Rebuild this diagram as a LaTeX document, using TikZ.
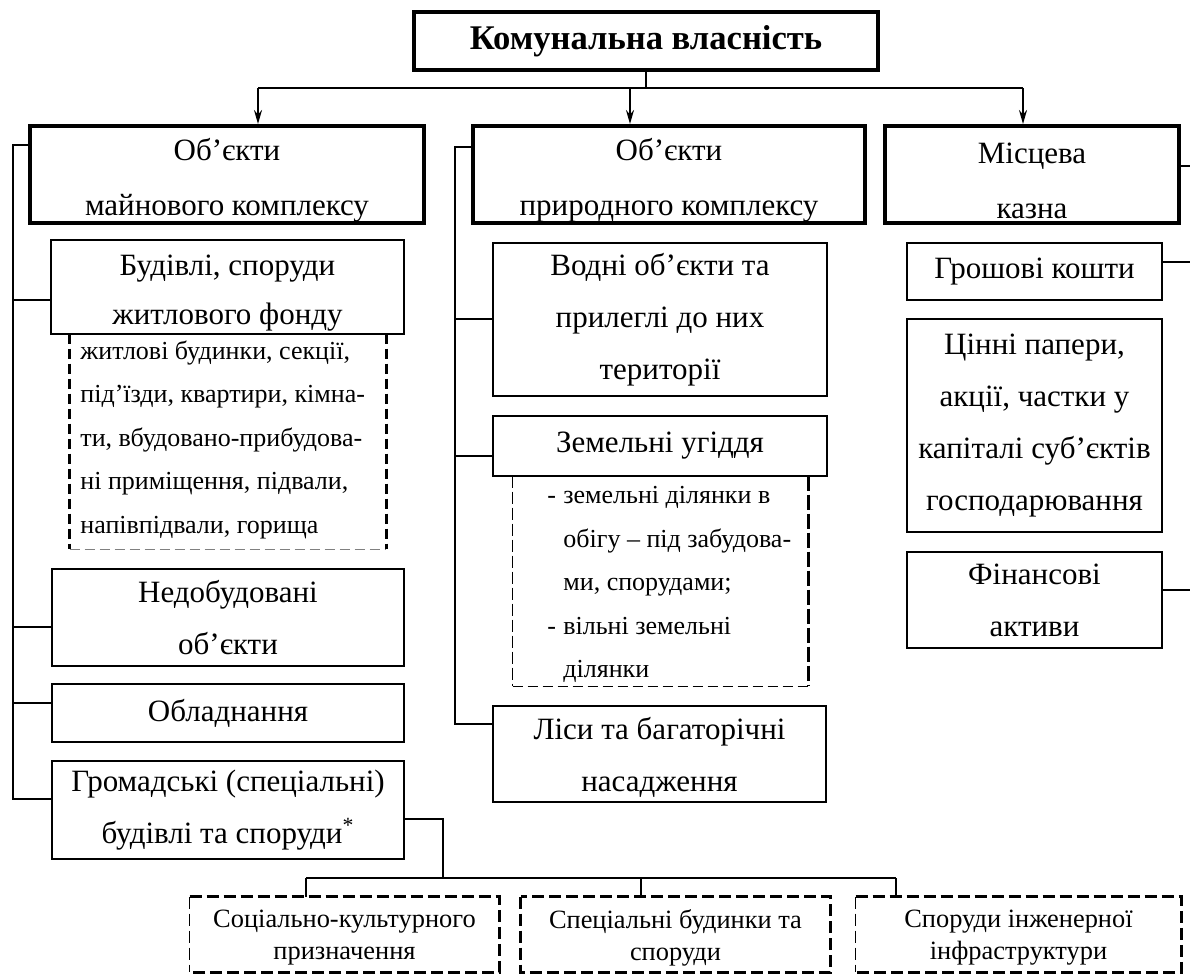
\documentclass[tikz,border=0pt]{standalone}
\usepackage{fontspec}
\setmainfont{Liberation Serif}
\usetikzlibrary{arrows.meta,calc}
\begin{document}
\begin{tikzpicture}[x=0.5pt,y=-0.5pt,
 sz/.style 2 args={minimum width=#1*0.5pt, minimum height=#2*0.5pt},
 box/.style={draw, line width=1pt, rectangle, inner sep=0pt, align=center, font=\fontsize{15.5}{26}\selectfont},
 bigbox/.style={box, line width=2pt, font=\fontsize{15.5}{27.5}\selectfont},
 titlebox/.style={box, line width=2pt, font=\fontsize{17.3}{20}\selectfont\bfseries},
 frame/.style={inner sep=0pt},
 conn/.style={line width=1pt},
 arr/.style={conn, -{Stealth[length=7pt,width=4pt]}},
 note/.style={inner sep=0pt, align=left, anchor=north west, font=\fontsize{13}{21.75}\selectfont},
 dthick/.style={line width=1.5pt, dash pattern=on 5pt off 2.5pt},
 dthin/.style={line width=0.6pt, dash pattern=on 5pt off 2.5pt},
 dbot/.style={line width=1.4pt, dash pattern=on 6pt off 2.5pt},
 dbotthin/.style={line width=0.6pt, dash pattern=on 6pt off 2.5pt},
 subtext/.style={inner sep=0pt, align=center, font=\fontsize{13.2}{16}\selectfont},
]
\useasboundingbox (0,0) rectangle (1190,974);

% top level
\node[titlebox, sz={464}{58}] (title) at (646,41) {Комунальна власність};
\node[bigbox, sz={394}{97}] (b1) at (227,174.5) {\rule{0pt}{17pt}Об’єкти\\майнового комплексу};
\node[bigbox, sz={392}{97}] (b2) at (669,174.5) {\rule{0pt}{17pt}Об’єкти\\природного комплексу};
\node[bigbox, sz={294}{97}] (b3) at (1032,174.5) {\rule{0pt}{17pt}Місцева\\казна};

\coordinate (a1) at (258,88);
\coordinate (a2) at (630,88);
\coordinate (a3) at (1023,88);
\draw[conn] (title.south) -- (title.south |- a1);
\draw[conn] (a1) -- (a3);
\draw[arr] (a1) -- (a1 |- b1.north);
\draw[arr] (a2) -- (a2 |- b2.north);
\draw[arr] (a3) -- (a3 |- b3.north);

% column 1
\node[box, sz={353}{94}, font=\fontsize{15.5}{24.5}\selectfont] (bud) at (227.5,287) {\rule{0pt}{16pt}Будівлі, споруди\\житлового фонду};
\node[frame, sz={316}{215}] (d1) at (228,441.5) {};
\node[note] (d1t) at (80,340) {житлові будинки, секції,\\під’їзди, квартири, кімна-\\ти, вбудовано-прибудова-\\ні приміщення, підвали,\\напівпідвали, горища};
\draw[dthick] (d1.north west) -- (d1.south west);
\draw[dthick] (d1.north east) -- (d1.south east);
\draw[dthin, gray] (d1.south west) -- (d1.south east);
\node[box, sz={352}{97}] (ned) at (228,617.5) {Недобудовані\\об’єкти};
\node[box, sz={352}{58}] (obl) at (228,713) {Обладнання};
\node[box, sz={352}{98}] (grom) at (228,810) {Громадські (спеціальні)\\будівлі та споруди\textsuperscript{*}};

\coordinate (s1) at (13,145);
\coordinate (s2) at (13,300);
\coordinate (s3) at (13,627);
\coordinate (s4) at (13,703);
\coordinate (s5) at (13,799);
\draw[conn] (s1 -| b1.west) -- (s1) -- (s5) -- (s5 -| grom.west);
\draw[conn] (s2) -- (s2 -| bud.west);
\draw[conn] (s3) -- (s3 -| ned.west);
\draw[conn] (s4) -- (s4 -| obl.west);

% column 2
\node[box, sz={334}{153}] (vod) at (660,319.5) {Водні об’єкти та\\прилеглі до них\\території};
\node[box, sz={334}{60}] (zem) at (660,446) {Земельні угіддя};
\node[frame, sz={295}{210}] (d2) at (660.5,581) {};
\node[note] (d2t) at (547,486) {\makebox[8pt][l]{-}земельні ділянки в\\\hspace*{8pt}обігу – під забудова-\\\hspace*{8pt}ми, спорудами;\\\makebox[8pt][l]{-}вільні земельні\\\hspace*{8pt}ділянки};
\draw[line width=0.6pt, dash pattern=on 6pt off 2pt] (d2.north west) -- (d2.south west);
\draw[line width=1.5pt, dash pattern=on 7.5pt off 2pt] (d2.north east) -- (d2.south east);
\draw[dthin] (d2.south west) -- (d2.south east);
\node[box, sz={333}{96}] (lis) at (659.5,754) {\rule{0pt}{14pt}Ліси та багаторічні\\насадження};

\coordinate (t1) at (455,147);
\coordinate (t2) at (455,319);
\coordinate (t3) at (455,456);
\coordinate (t4) at (455,724);
\draw[conn] (t1 -| b2.west) -- (t1) -- (t4) -- (t4 -| lis.west);
\draw[conn] (t2) -- (t2 -| vod.west);
\draw[conn] (t3) -- (t3 -| zem.west);

% column 3
\node[box, sz={255}{57}] (gro) at (1034.5,271.5) {Грошові кошти};
\node[box, sz={255}{213}] (cin) at (1034.5,425.5) {Цінні папери,\\акції, частки у\\капіталі суб’єктів\\господарювання};
\node[box, sz={255}{96}] (fin) at (1034.5,600) {Фінансові\\активи};
\coordinate (r0) at (1190,166);
\coordinate (r1) at (1190,262);
\coordinate (r2) at (1190,590);
\draw[conn] (r0 -| b3.east) -- (r0);
\draw[conn] (r1 -| gro.east) -- (r1);
\draw[conn] (r2 -| fin.east) -- (r2);

% bottom
\node[frame, sz={309}{75}] (ba) at (344.5,934.5) {};
\node[frame, sz={309}{75}] (bb) at (675.5,934.5) {};
\node[frame, sz={325}{75}] (bc) at (1018.5,934.5) {};
\node[subtext] (ta) at (344.5,938) {Соціально-культурного\\призначення};
\node[subtext] (tb) at (675.5,938) {Спеціальні будинки та\\споруди};
\node[subtext] (tc) at (1018.5,938) {Споруди інженерної\\інфраструктури};
\draw[dbotthin] (ba.north west) -- (ba.south west);
\draw[dbot] (ba.north west) -- (ba.north east) -- (ba.south east) -- (ba.south west);
\draw[dbot] (bb.north west) rectangle (bb.south east);
\draw[dbotthin] (bc.north west) -- (bc.south west);
\draw[dbot] (bc.north west) -- (bc.north east) -- (bc.south east) -- (bc.south west);

\coordinate (g1) at (443,819);
\coordinate (g2) at (443,878);
\coordinate (h1) at (306,878);
\coordinate (h2) at (641,878);
\coordinate (h3) at (896,878);
\draw[conn] (g1 -| grom.east) -- (g1) -- (g2);
\draw[conn] (h1) -- (h3);
\draw[conn] (h1) -- (h1 |- ba.north);
\draw[conn] (h2) -- (h2 |- bb.north);
\draw[conn] (h3) -- (h3 |- bc.north);
\end{tikzpicture}
\end{document}
